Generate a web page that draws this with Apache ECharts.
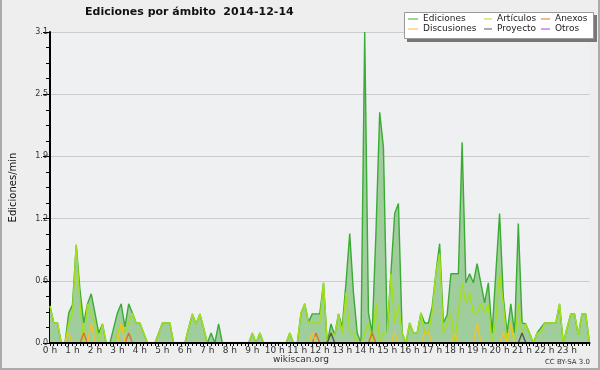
<!DOCTYPE html>
<html><head><meta charset="utf-8">
<script src="https://cdn.jsdelivr.net/npm/echarts@6/dist/echarts.min.js"></script>
<style>html,body{margin:0;padding:0;background:#eeeeee}#c{width:600px;height:370px}</style>
</head><body><div id="c"></div>
<script>
const chartTitle = 'Ediciones por ámbito  2014-12-14';
const yAxisName = 'Ediciones/min';
const hourLabels = ['0 h','1 h','2 h','3 h','4 h','5 h','6 h','7 h','8 h','9 h','10 h','11 h',
  '12 h','13 h','14 h','15 h','16 h','17 h','18 h','19 h','20 h','21 h','22 h','23 h'];
const seriesNames = ['Ediciones','Artículos','Anexos','Discusiones','Proyecto','Otros'];
// 10-minute slots, one row per hour
const ediciones = [
  0.37,0.2,0.2,0,0,0.3,
  0.38,0.98,0.53,0.2,0.39,0.49,
  0.3,0.1,0.19,0,0,0.15,
  0.3,0.39,0.16,0.39,0.3,0.2,
  0.2,0.1,0,0,0,0.1,
  0.2,0.2,0.2,0,0,0,
  0,0.15,0.29,0.19,0.29,0.15,
  0,0.1,0,0.19,0,0,
  0,0,0,0,0,0,
  0.1,0,0.1,0,0,0,
  0,0,0,0,0.1,0,
  0,0.3,0.39,0.21,0.29,0.29,
  0.29,0.6,0,0.19,0.08,0.29,
  0.16,0.6,1.09,0.5,0.1,0,
  3.1,0.3,0.1,1.1,2.3,1.95,
  0.1,0.7,1.29,1.39,0.1,0,
  0.2,0.1,0.1,0.3,0.2,0.2,
  0.36,0.7,0.99,0.2,0.28,0.69,
  0.69,0.69,2.0,0.6,0.69,0.6,
  0.79,0.6,0.4,0.6,0.1,0.7,
  1.29,0.46,0.1,0.39,0.1,1.19,
  0.2,0.19,0.1,0,0.1,0.15,
  0.2,0.2,0.2,0.2,0.39,0,
  0.15,0.29,0.29,0.08,0.29,0.29,
  0
];
const articulos = [
  0.37,0.2,0.2,0,0,0.2,
  0.3,0.98,0.4,0,0.39,0.29,
  0.2,0,0.19,0,0,0,
  0.1,0.2,0.1,0.2,0.3,0.2,
  0.2,0.1,0,0,0,0.1,
  0.2,0.2,0.2,0,0,0,
  0,0.15,0.29,0.19,0.29,0.15,
  0,0,0,0,0,0,
  0,0,0,0,0,0,
  0.1,0,0.1,0,0,0,
  0,0,0,0,0.1,0,
  0,0.3,0.39,0.2,0.2,0.2,
  0.2,0.6,0,0.1,0.08,0.29,
  0.1,0.5,0.1,0.1,0,0,
  0.1,0.2,0,0.4,0,0.1,
  0.1,0.69,0.2,0.38,0.1,0,
  0.2,0.1,0.1,0.3,0.1,0.1,
  0.3,0.7,0.89,0.1,0.2,0.29,
  0,0.3,0.6,0.4,0.49,0.3,
  0.3,0.39,0.3,0.39,0,0.23,
  0.69,0.39,0,0.19,0,0.39,
  0.1,0.19,0.1,0,0.1,0.1,
  0.2,0.2,0.2,0.2,0.39,0,
  0.15,0.29,0.29,0.08,0.29,0.29,
  0
];
const anexos = [
  0,0,0,0,0,0,  0,0,0,0.1,0,0,  0,0,0,0,0,0,  0,0,0,0.1,0,0,
  0,0,0,0,0,0,  0,0,0,0,0,0,  0,0,0,0,0,0,  0,0,0,0,0,0,
  0,0,0,0,0,0,  0,0,0,0,0,0,  0,0,0,0,0,0,  0,0,0,0,0,0.1,
  0,0,0,0,0,0,  0,0,0,0,0,0,  0,0,0.1,0,0,0,  0,0,0,0,0,0,
  0,0,0,0,0,0,  0,0,0,0,0,0,  0,0,0,0,0,0,  0,0,0,0,0,0,
  0,0,0,0,0,0,  0,0,0,0,0,0,  0,0,0,0,0,0,  0,0,0,0,0,0,
  0
];
const discusiones = [
  0,0,0,0,0,0.1,  0,0,0,0,0,0.2,  0,0,0,0,0,0,  0,0.2,0,0,0,0,
  0,0,0,0,0,0,  0,0,0,0,0,0,  0,0,0,0,0,0,  0,0,0,0,0,0,
  0,0,0,0,0,0,  0,0,0,0,0,0,  0,0,0,0,0,0,  0,0,0,0,0.1,0,
  0,0,0,0,0,0,  0,0,0,0,0,0,  0,0,0,0,0,0,  0,0,0.1,0,0,0,
  0,0,0,0,0.1,0.1,  0,0,0,0,0,0,  0.1,0,0,0,0,0,  0.2,0,0,0,0,0,
  0,0.1,0,0.2,0,0,  0,0,0,0,0,0,  0,0,0,0,0,0,  0,0,0,0,0,0,
  0
];
const proyecto = [
  0,0,0,0,0,0,  0,0,0,0,0,0,  0,0,0,0,0,0,  0,0,0,0,0,0,
  0,0,0,0,0,0,  0,0,0,0,0,0,  0,0,0,0,0,0,  0,0,0,0,0,0,
  0,0,0,0,0,0,  0,0,0,0,0,0,  0,0,0,0,0,0,  0,0,0,0,0,0,
  0,0,0,0.1,0,0,  0,0,0,0,0,0,  0,0,0,0,0,0,  0,0,0,0,0,0,
  0,0,0,0,0,0,  0,0,0,0,0,0,  0,0,0,0,0,0,  0,0,0,0,0,0,
  0,0,0,0,0,0,  0.1,0,0,0,0,0,  0,0,0,0,0,0,  0,0,0,0,0,0,
  0
];
const otros = [
  0,0,0,0,0,0,  0,0,0,0,0,0,  0,0,0,0,0,0,  0,0,0,0,0,0,
  0,0,0,0,0,0,  0,0,0,0,0,0,  0,0,0,0,0,0,  0,0,0,0,0,0,
  0,0,0,0,0,0,  0,0,0,0,0,0,  0,0,0,0,0,0,  0,0,0,0,0,0,
  0,0,0,0,0,0,  0,0,0,0,0,0,  0,0,0,0,0,0,  0,0,0,0,0,0,
  0,0,0,0,0,0,  0,0,0,0,0,0,  0,0,0,0,0,0,  0,0,0,0,0,0,
  0,0,0,0,0,0,  0,0,0,0,0,0,  0,0,0,0,0,0,  0,0,0,0,0,0,
  0
];
// time slots (category axis): 00:00 .. 24:00 every 10 min
const slots = [];
for (let i = 0; i < ediciones.length; i++) {
  const m = i * 10;
  slots.push(String(Math.floor(m / 60)).padStart(2, '0') + ':' + String(m % 60).padStart(2, '0'));
}

const colors = {
  'Ediciones': '#3aab35',
  'Artículos': '#a4e01a',
  'Anexos': '#ec6a28',
  'Discusiones': '#f2c22a',
  'Proyecto': '#555555',
  'Otros': '#9a45e6'
};
const FONT = 'DejaVu Sans';

const chart = echarts.init(document.getElementById('c'), null, {renderer: 'canvas'});
const lineSeries = (name, data, z) => ({
  name, type: 'line', data, showSymbol: false, symbol: 'none',
  color: colors[name], lineStyle: {color: colors[name], width: 1.4},
  z, animation: false
});
const legendBase = {
  orient: 'vertical', top: 14, itemGap: 0, itemWidth: 10, itemHeight: 1,
  icon: 'rect', padding: 0, selectedMode: false, z: 6,
  textStyle: {fontFamily: FONT, fontSize: 9, lineHeight: 10, color: '#222', padding: 0}
};
chart.setOption({
  backgroundColor: '#eeeeee',
  animation: false,
  title: {
    text: chartTitle, left: 85, top: 7, padding: 0,
    textStyle: {fontFamily: FONT, fontWeight: 'bold', fontSize: 11, color: '#111'}
  },
  legend: [
    Object.assign({}, legendBase, {left: 408, data: ['Ediciones', 'Discusiones']}),
    Object.assign({}, legendBase, {left: 484, itemWidth: 8, data: ['Artículos', 'Proyecto']}),
    Object.assign({}, legendBase, {left: 541, itemWidth: 9, data: ['Anexos', 'Otros']})
  ],
  grid: {left: 47, right: 10.5, top: 32, bottom: 27, show: true, backgroundColor: '#eff0f2', borderWidth: 0},
  xAxis: {
    type: 'category', data: slots, boundaryGap: false, z: 5,
    axisLine: {lineStyle: {color: '#000', width: 2}},
    axisTick: {interval: 0, length: 3, lineStyle: {color: '#000', width: 1}},
    axisLabel: {
      interval: (i) => i % 6 === 0 && i < 144,
      formatter: (v, i) => hourLabels[Math.round(i / 6)] || '',
      fontFamily: FONT, fontSize: 9, margin: 3, color: '#333'
    },
    splitLine: {show: false}
  },
  yAxis: {
    type: 'value', min: 0, max: 3.1, interval: 0.62,
    name: yAxisName, nameLocation: 'middle', nameGap: 32,
    nameTextStyle: {fontFamily: FONT, fontSize: 10, color: '#111'},
    axisLine: {show: true, lineStyle: {color: '#000', width: 2}},
    axisTick: {show: true, length: 7, lineStyle: {color: '#000'}},
    minorTick: {show: true, splitNumber: 4, length: 4, lineStyle: {color: '#000'}},
    splitLine: {lineStyle: {color: '#cccccc', width: 1}},
    axisLabel: {formatter: (v) => v.toFixed(1), fontFamily: FONT, fontSize: 8, margin: 2, color: '#333'}
  },
  series: [
    Object.assign(lineSeries('Ediciones', ediciones, 2), {areaStyle: {color: '#9fcd9c', opacity: 1}}),
    lineSeries('Artículos', articulos, 3),
    lineSeries('Anexos', anexos, 4),
    lineSeries('Discusiones', discusiones, 4),
    lineSeries('Proyecto', proyecto, 4),
    lineSeries('Otros', otros, 4)
  ],
  graphic: [
    {type: 'rect', z: 5, shape: {x: 407, y: 15, width: 190, height: 27}, style: {fill: '#777'}},
    {type: 'rect', z: 5, shape: {x: 404.5, y: 12.5, width: 189, height: 26}, style: {fill: '#fff', stroke: '#999', lineWidth: 1}},
    {type: 'rect', z: 10, shape: {x: 0, y: 0, width: 2, height: 370}, style: {fill: '#aaaaaa'}},
    {type: 'rect', z: 10, shape: {x: 598, y: 0, width: 2, height: 370}, style: {fill: '#aaaaaa'}},
    {type: 'rect', z: 10, shape: {x: 0, y: 368, width: 600, height: 2}, style: {fill: '#aaaaaa'}},
    {type: 'text', z: 10, x: 301, y: 360, style: {text: 'wikiscan.org', font: '9px "DejaVu Sans"', fill: '#333', align: 'center', verticalAlign: 'middle'}},
    {type: 'text', z: 10, x: 590, y: 362, style: {text: 'CC BY-SA 3.0', font: '7px "DejaVu Sans"', fill: '#333', align: 'right', verticalAlign: 'middle'}}
  ]
});
</script>
</body></html>
